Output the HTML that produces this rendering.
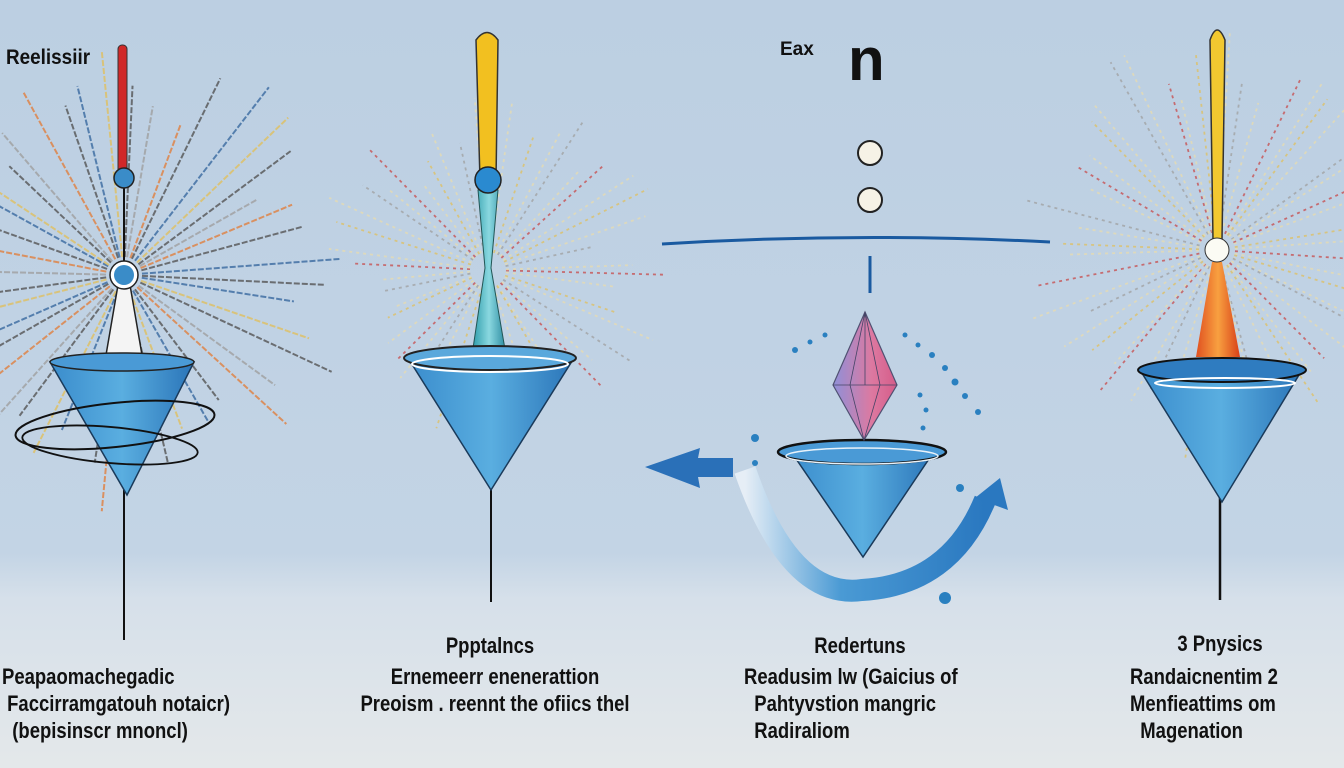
<!DOCTYPE html>
<html><head><meta charset="utf-8">
<style>
html,body{margin:0;padding:0}
body{width:1344px;height:768px;overflow:hidden;background:linear-gradient(#bccfe2 0%,#c3d4e5 72%,#d6e0ea 78%,#e4e8ea 100%);position:relative;font-family:"Liberation Sans",sans-serif}
.t{position:absolute;color:#111;font-size:22px;font-weight:bold;line-height:27px;white-space:nowrap;text-align:center;transform:scaleX(0.84)}
svg{position:absolute;left:0;top:0}
</style></head><body>
<svg id="s" width="1344" height="768" viewBox="0 0 1344 768">
<defs>
<linearGradient id="bc" x1="0" x2="1"><stop offset="0" stop-color="#3a8ccc"/><stop offset="0.5" stop-color="#5aaee0"/><stop offset="1" stop-color="#2a74b8"/></linearGradient>
<linearGradient id="arc" x1="0" x2="1"><stop offset="0" stop-color="#e6eef6"/><stop offset="0.4" stop-color="#4a9ad4"/><stop offset="1" stop-color="#2a78c0"/></linearGradient>
<linearGradient id="dia" x1="0" x2="1"><stop offset="0" stop-color="#8a8ad8"/><stop offset="0.6" stop-color="#e0709a"/><stop offset="1" stop-color="#d85080"/></linearGradient>
<linearGradient id="or" x1="0" x2="1"><stop offset="0" stop-color="#e05020"/><stop offset="0.5" stop-color="#f8a040"/><stop offset="1" stop-color="#d84018"/></linearGradient>
<linearGradient id="tl" x1="0" x2="1"><stop offset="0" stop-color="#2a9aa8"/><stop offset="0.5" stop-color="#8ad8e0"/><stop offset="1" stop-color="#2a8aa0"/></linearGradient>
</defs>
<g id="rays"></g>
<!-- Fig 1 -->
<line x1="124" y1="170" x2="124" y2="640" stroke="#111" stroke-width="2"/>
<rect x="118" y="45" width="9" height="128" rx="4" fill="#d02828" stroke="#333" stroke-width="1"/>
<circle cx="124" cy="178" r="10" fill="#3a8cc8" stroke="#222" stroke-width="1.5"/>
<polygon points="118,285 130,285 142,355 106,355" fill="#f4f4f4" stroke="#222" stroke-width="1.5"/>
<circle cx="124" cy="275" r="14" fill="#fff" stroke="#222" stroke-width="1.5"/>
<circle cx="124" cy="275" r="10" fill="#3a8cc8"/>
<polygon points="50,362 194,362 127,495" fill="url(#bc)" stroke="#1a3a5a" stroke-width="1.5"/>
<ellipse cx="122" cy="362" rx="72" ry="9" fill="#4a9ad6" stroke="#222" stroke-width="1.5"/>
<ellipse cx="115" cy="425" rx="100" ry="22" fill="none" stroke="#111" stroke-width="2" transform="rotate(-6 115 425)"/>
<ellipse cx="110" cy="445" rx="88" ry="18" fill="none" stroke="#111" stroke-width="1.8" transform="rotate(5 110 445)"/>
<!-- Fig 2 -->
<line x1="491" y1="480" x2="491" y2="602" stroke="#111" stroke-width="2"/>
<path d="M476,40 Q487,25 498,40 L496,180 L480,180 Z" fill="#f2c020" stroke="#333" stroke-width="1.5"/>
<path d="M478,190 L498,190 L491,268 L506,355 L472,355 L485,268 Z" fill="url(#tl)" stroke="#255" stroke-width="1"/>
<circle cx="488" cy="180" r="13" fill="#2a8ad0" stroke="#222" stroke-width="1.5"/>
<polygon points="408,358 574,358 491,490" fill="url(#bc)" stroke="#1a3a5a" stroke-width="1.5"/>
<ellipse cx="490" cy="358" rx="86" ry="12" fill="#5aa8dc" stroke="#222" stroke-width="2"/>
<ellipse cx="490" cy="364" rx="78" ry="8" fill="none" stroke="#fff" stroke-width="2"/>
<!-- Fig 3 -->
<text x="780" y="55" font-family="Liberation Sans" font-weight="bold" font-size="19" fill="#111">Eax</text>
<text x="848" y="80" font-family="Liberation Sans" font-weight="bold" font-size="60" fill="#111">n</text>
<circle cx="870" cy="153" r="12" fill="#f6f2e6" stroke="#222" stroke-width="2"/>
<circle cx="870" cy="200" r="12" fill="#f6f2e6" stroke="#222" stroke-width="2"/>
<path d="M662,244 Q856,232 1050,242" stroke="#1a5aa0" stroke-width="3" fill="none"/>
<line x1="870" y1="256" x2="870" y2="293" stroke="#1a5aa0" stroke-width="3"/>
<path d="M745,470 Q790,600 862,590 Q950,585 985,500" stroke="url(#arc)" stroke-width="22" fill="none"/>
<polygon points="975,498 1000,478 1008,510" fill="#2a78c0"/>
<polygon points="645,467 700,448 698,458 733,458 733,477 698,477 700,488" fill="#2a70b8"/>
<polygon points="790,450 935,450 863,557" fill="url(#bc)" stroke="#1a3a5a" stroke-width="1.5"/>
<ellipse cx="862" cy="452" rx="84" ry="12" fill="#4a9ad6" stroke="#111" stroke-width="2.5"/>
<ellipse cx="862" cy="456" rx="76" ry="8" fill="none" stroke="#e8f2fa" stroke-width="1.5"/>
<polygon points="865,312 897,385 864,440 833,385" fill="url(#dia)" stroke="#446" stroke-width="1.2" opacity="0.9"/>
<g stroke="#446" stroke-width="0.8" fill="none"><path d="M865,312 L850,385 L864,440 M865,312 L880,385 L864,440 M865,312 L865,385"/><line x1="833" y1="385" x2="897" y2="385"/></g>
<g fill="#2a80c0"><circle cx="755" cy="438" r="4"/><circle cx="755" cy="463" r="3"/><circle cx="960" cy="488" r="4"/><circle cx="945" cy="598" r="6"/>
<circle cx="795" cy="350" r="3"/><circle cx="810" cy="342" r="2.5"/><circle cx="825" cy="335" r="2.5"/><circle cx="905" cy="335" r="2.5"/><circle cx="918" cy="345" r="2.5"/><circle cx="932" cy="355" r="3"/><circle cx="945" cy="368" r="3"/><circle cx="955" cy="382" r="3.5"/><circle cx="965" cy="396" r="3"/><circle cx="978" cy="412" r="3"/><circle cx="920" cy="395" r="2.5"/><circle cx="926" cy="410" r="2.5"/><circle cx="923" cy="428" r="2.5"/></g>
<!-- Fig 4 -->
<line x1="1220" y1="495" x2="1220" y2="600" stroke="#111" stroke-width="2.5"/>
<path d="M1210,40 Q1217,20 1225,40 L1222,240 L1213,240 Z" fill="#f2c830" stroke="#333" stroke-width="1.5"/>
<polygon points="1212,262 1222,262 1240,357 1196,357" fill="url(#or)"/>
<circle cx="1217" cy="250" r="12" fill="#fbfbf4" stroke="#333" stroke-width="1"/>
<polygon points="1140,370 1302,370 1222,502" fill="url(#bc)" stroke="#1a3a5a" stroke-width="1.5"/>
<ellipse cx="1222" cy="370" rx="84" ry="12" fill="#2f7cc0" stroke="#111" stroke-width="2"/>
<ellipse cx="1225" cy="383" rx="70" ry="5" fill="none" stroke="#fff" stroke-width="2"/>
</svg>
<div class="t" style="left:6px;top:44px;font-size:21px;transform:scaleX(0.9);transform-origin:left">Reelissiir</div>
<div class="t" style="left:420px;top:632px;width:140px">Ppptalncs</div>
<div class="t" style="left:800px;top:632px;width:120px">Redertuns</div>
<div class="t" style="left:1160px;top:630px;width:120px">3 Pnysics</div>
<div class="t" style="left:2px;top:663px;text-align:left;transform-origin:left">Peapaomachegadic<br>&nbsp;Faccirramgatouh notaicr)<br>&nbsp;&nbsp;(bepisinscr mnoncl)</div>
<div class="t" style="left:330px;top:663px;width:330px">Ernemeerr enenerattion<br>Preoism . reennt the ofiics thel</div>
<div class="t" style="left:744px;top:663px;text-align:left;transform-origin:left">Readusim lw (Gaicius of<br>&nbsp;&nbsp;Pahtyvstion mangric<br>&nbsp;&nbsp;Radiraliom</div>
<div class="t" style="left:1130px;top:663px;text-align:left;transform-origin:left">Randaicnentim 2<br>Menfieattims om<br>&nbsp;&nbsp;Magenation</div>
<script>
var g=document.getElementById('rays');var seed=7;function r(){seed=(seed*9301+49297)%233280;return seed/233280;}
var cols=['#c84a4a','#3a6aa0','#e0c060','#4a9a6a','#a0a0a0','#e08040'];
function burst(cx,cy,n,r1,r2,dark){for(var i=0;i<n;i++){var a=i/n*Math.PI*2+r()*0.1;var L=r1+r()*(r2-r1);var x1=cx+Math.cos(a)*18,y1=cy+Math.sin(a)*18,x2=cx+Math.cos(a)*L,y2=cy+Math.sin(a)*L;
var l=document.createElementNS('http://www.w3.org/2000/svg','line');l.setAttribute('x1',x1);l.setAttribute('y1',y1);l.setAttribute('x2',x2);l.setAttribute('y2',y2);
l.setAttribute('stroke',dark?(i%3==0?'#555':cols[i%6]):(i%2?'#e8dcb0':cols[i%6]));l.setAttribute('stroke-width',dark?2:1.8);l.setAttribute('stroke-dasharray',dark?'6 2':'3 4');l.setAttribute('opacity',dark?0.8:0.75);g.appendChild(l);}}
burst(124,275,44,150,240,true);burst(488,270,48,100,180,false);burst(1217,250,52,140,220,false);
</script>
</body></html>
